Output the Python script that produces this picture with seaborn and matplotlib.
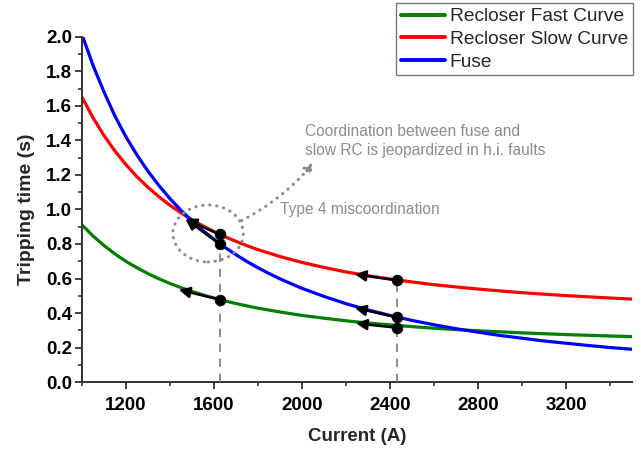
import numpy as np
import pandas as pd
import seaborn as sns
import matplotlib
matplotlib.use("Agg")
import matplotlib.pyplot as plt
from matplotlib.patches import Ellipse

# Time-current characteristics (current in A, tripping time in s)
current = [1000, 1050, 1100, 1150, 1200, 1250, 1300, 1350, 1400, 1450,
           1500, 1550, 1600, 1650, 1700, 1750, 1800, 1850, 1900, 1950,
           2000, 2100, 2200, 2300, 2400, 2500, 2600, 2700, 2800, 2900,
           3000, 3100, 3200, 3300, 3400, 3500]
fast_curve = [0.910, 0.846, 0.791, 0.742, 0.699, 0.662, 0.628, 0.598, 0.571, 0.547,
              0.525, 0.505, 0.487, 0.470, 0.455, 0.441, 0.428, 0.417, 0.406, 0.396,
              0.386, 0.370, 0.355, 0.342, 0.331, 0.321, 0.312, 0.304, 0.297, 0.291,
              0.285, 0.280, 0.275, 0.271, 0.267, 0.263]
slow_curve = [1.650, 1.531, 1.428, 1.338, 1.259, 1.189, 1.128, 1.073, 1.024, 0.980,
              0.940, 0.904, 0.872, 0.842, 0.815, 0.790, 0.767, 0.747, 0.727, 0.710,
              0.693, 0.664, 0.638, 0.616, 0.597, 0.580, 0.564, 0.551, 0.539, 0.528,
              0.518, 0.509, 0.501, 0.494, 0.487, 0.481]
fuse_curve = [2.012, 1.835, 1.680, 1.540, 1.420, 1.315, 1.221, 1.138, 1.062, 0.995,
              0.933, 0.877, 0.827, 0.780, 0.738, 0.698, 0.662, 0.629, 0.598, 0.570,
              0.543, 0.496, 0.454, 0.418, 0.386, 0.357, 0.332, 0.309, 0.289, 0.270,
              0.254, 0.238, 0.225, 0.212, 0.200, 0.190]
series_names = ["Recloser Fast Curve", "Recloser Slow Curve", "Fuse"]
series_colors = ["#008000", "#ff0000", "#0000ff"]

# Operating points at the two fault currents and where each moves to
fault_current = [1625, 1625, 1625, 2430, 2430, 2430]
fault_time = [0.855, 0.800, 0.478, 0.590, 0.375, 0.315]
shift_current = [1470, 1470, 1440, 2240, 2240, 2245]
shift_time = [0.945, 0.945, 0.535, 0.625, 0.430, 0.340]

x_ticks = [1200, 1600, 2000, 2400, 2800, 3200]
y_ticks = [0.0, 0.2, 0.4, 0.6, 0.8, 1.0, 1.2, 1.4, 1.6, 1.8, 2.0]

df = pd.DataFrame({
    "Current (A)": current * 3,
    "Tripping time (s)": fast_curve + slow_curve + fuse_curve,
    "Curve": [n for n in series_names for _ in current],
})

sns.set_style("ticks")
plt.rcParams["font.family"] = ["Liberation Sans", "DejaVu Sans"]

fig = plt.figure(figsize=(6.41, 4.5), dpi=100)
ax = fig.add_axes([0.128, 0.151, 0.858, 0.767])

sns.lineplot(data=df, x="Current (A)", y="Tripping time (s)", hue="Curve",
             hue_order=series_names, palette=series_colors, linewidth=2.3,
             ax=ax, legend=True)

gray = "#8c8c8c"

# Dashed guides at the two fault currents
for xc, top in [(fault_current[0], fault_time[0]), (fault_current[3], fault_time[3])]:
    ax.plot([xc, xc], [0, top], color="#7a7a7a", lw=1.2, ls=(0, (5, 4)), zorder=3)

# Arrows showing the shift of each operating point
for x0, y0, x1, y1 in zip(fault_current, fault_time, shift_current, shift_time):
    ax.annotate("", xy=(x1, y1), xytext=(x0, y0),
                arrowprops=dict(arrowstyle="-|>", color="black", lw=1.8,
                                mutation_scale=16, shrinkA=0, shrinkB=0),
                zorder=5)
sns.scatterplot(x=fault_current, y=fault_time, color="black", s=58,
                edgecolor="black", ax=ax, zorder=6, legend=False)

# Dotted highlight of the miscoordination region
ell = Ellipse((1573, 0.861), 320, 0.33, fill=False, edgecolor=gray,
              lw=2.2, linestyle=(0, (0.1, 2.2)), zorder=4)
ell.set_capstyle("round")
ax.add_patch(ell)

ax.annotate("", xy=(2055, 1.275), xytext=(1725, 0.935),
            arrowprops=dict(arrowstyle="-|>", color=gray, lw=2.2,
                            linestyle=(0, (0.1, 2.2)), capstyle="round",
                            mutation_scale=14, shrinkA=0, shrinkB=0,
                            connectionstyle="arc3,rad=0.1"))

ax.text(1900, 0.997, "Type 4 miscoordination", color=gray, fontsize=11.2,
        ha="left", va="center")
ax.text(2014, 1.397, "Coordination between fuse and\nslow RC is jeopardized in h.i. faults",
        color=gray, fontsize=11.2, ha="left", va="center", linespacing=1.3)

# Axes, ticks and labels
ax.set_xlim(1000, 3500)
ax.set_ylim(0, 2.0)
ax.set_xticks(x_ticks)
ax.set_xticks([1000, 1400, 1800, 2200, 2600, 3000, 3400], minor=True)
ax.set_yticks(y_ticks)
ax.set_yticks(np.arange(0.1, 2.0, 0.2), minor=True)
ax.set_yticklabels([f"{v:.1f}" for v in y_ticks])
ax.tick_params(axis="both", which="major", direction="out", length=5, width=1.3,
               labelsize=13.5, colors="#333333", labelcolor="black")
ax.tick_params(axis="y", which="major", pad=2)
ax.tick_params(axis="x", which="major", pad=6)
ax.tick_params(axis="both", which="minor", direction="out", length=3, width=1.2,
               colors="#333333")
for lab in ax.get_xticklabels() + ax.get_yticklabels():
    lab.set_fontweight("bold")
ax.set_xlabel("Current (A)", fontsize=13.5, fontweight="bold", labelpad=10)
ax.set_ylabel("Tripping time (s)", fontsize=14, fontweight="bold", labelpad=8)
for side in ["top", "right"]:
    ax.spines[side].set_visible(False)
for side in ["left", "bottom"]:
    ax.spines[side].set_linewidth(1.4)
    ax.spines[side].set_color("#333333")

leg = ax.legend(loc="upper right", bbox_to_anchor=(0.987, 0.993),
                bbox_transform=fig.transFigure, fontsize=13.8, frameon=True,
                fancybox=False, handlelength=2.3, handletextpad=0.25,
                labelspacing=0.27, borderpad=0.25, borderaxespad=0)
leg.get_frame().set_edgecolor("#555555")
leg.get_frame().set_linewidth(1.0)
for line in leg.get_lines():
    line.set_linewidth(2.8)

fig.savefig("out.png", dpi=100)
